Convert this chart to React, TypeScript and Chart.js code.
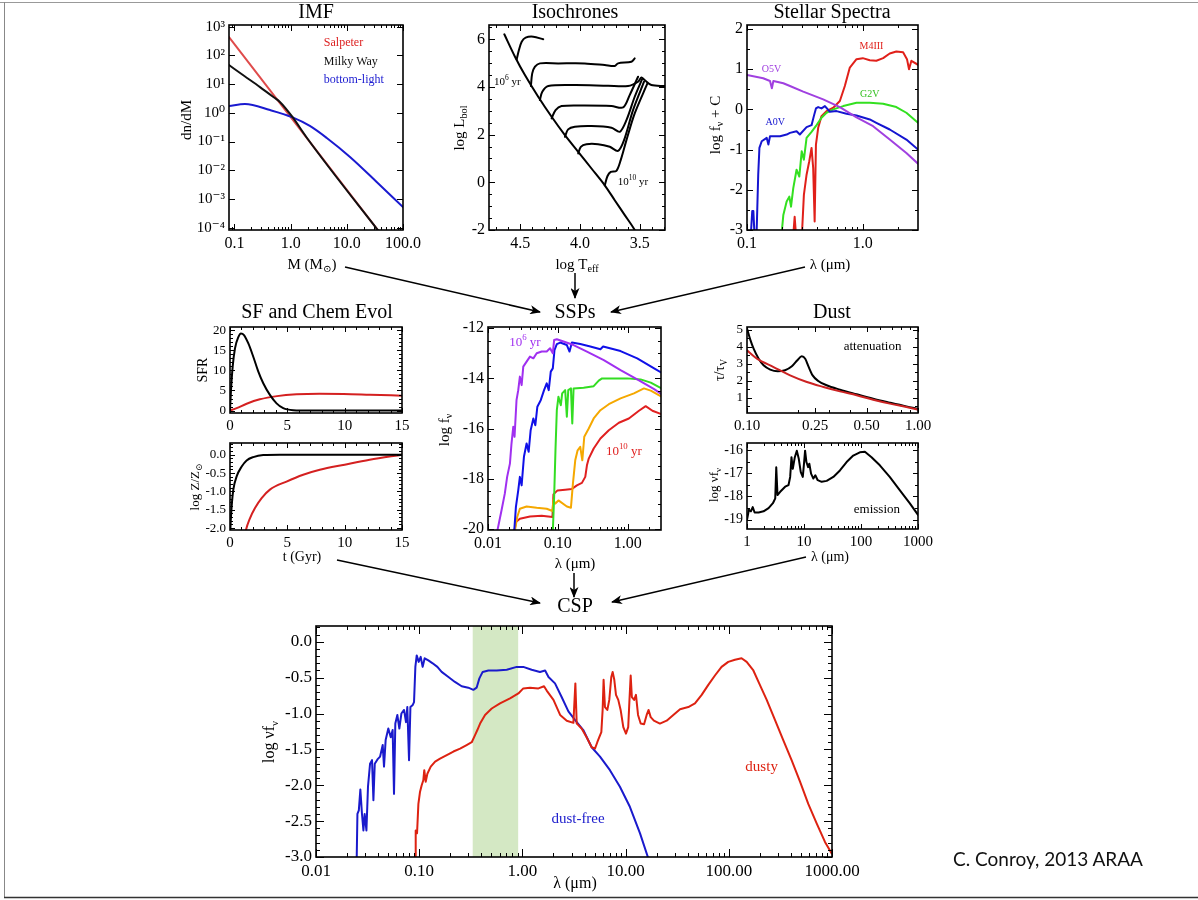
import React, { useEffect, useRef } from "react";
import { Chart, registerables } from "chart.js";
Chart.register(...registerables);

const SERIF = '"Liberation Serif","DejaVu Serif","Times New Roman",serif';
const ML = 80, MT = 32, MR = 34, MB = 48;
const PI2 = -Math.PI / 2;

// ---------------- IMF ----------------
const imfMassTicks = [0.1, 1, 10, 100];
const imfMassLabels = ["0.1", "1.0", "10.0", "100.0"];
const imfDnTicks = [1e-4, 1e-3, 1e-2, 1e-1, 1, 10, 100, 1000];
const imfDnLabels = ["10⁻⁴", "10⁻³", "10⁻²", "10⁻¹", "10⁰", "10¹", "10²", "10³"];
const imfSalpeter = [[0.08, 437], [50, 3.5e-5]];
const imfMilkyWay = [[0.08, 46], [0.15, 19.2], [0.285, 7.9], [0.5, 3.5], [0.645, 2.4], [1.06, 0.75], [2, 0.125], [50, 3.5e-5]];
const imfBottomLight = [[0.08, 1.73], [0.154, 2.03], [0.43, 1.25], [1.06, 0.71], [2.2, 0.35], [4.4, 0.133], [11.4, 0.029], [34, 0.0039], [100, 5.2e-4]];

// ---------------- Isochrones ----------------
const isoTeffTicks = [4.5, 4.0, 3.5];
const isoTeffLabels = ["4.5", "4.0", "3.5"];
const isoLumTicks = [-2, 0, 2, 4, 6];
const isoLumLabels = ["-2", "0", "2", "4", "6"];
const isoMainSeq = [[4.632, 6.21], [4.543, 5.27], [4.46, 4.5], [4.349, 3.59], [4.237, 2.75], [4.126, 1.98], [4.015, 1.28], [3.904, 0.58], [3.793, -0.125], [3.71, -0.75], [3.626, -1.375], [3.543, -2.0], [3.515, -2.36]];
const iso1 = [[4.529, 5.157], [4.51, 5.55], [4.487, 5.9], [4.454, 6.07], [4.39, 6.11], [4.307, 6.0]];
const iso2 = [[4.41, 4.04], [4.399, 4.57], [4.376, 4.85], [4.335, 4.99], [4.182, 4.99], [3.96, 4.99], [3.793, 4.92], [3.71, 4.88], [3.682, 4.99], [3.571, 5.06], [3.543, 5.2]];
const iso3 = [[4.335, 3.45], [4.315, 3.8], [4.265, 4.04], [4.043, 4.08], [3.765, 4.05], [3.599, 4.04], [3.515, 4.22], [3.487, 4.4], [3.46, 4.29], [3.404, 4.08], [3.293, 4.04]];
const iso4 = [[4.237, 2.68], [4.204, 3.03], [4.154, 3.2], [3.96, 3.22], [3.737, 3.2], [3.64, 3.14], [3.585, 3.66], [3.515, 4.43]];
const iso5 = [[4.126, 1.91], [4.099, 2.22], [4.043, 2.33], [3.904, 2.36], [3.737, 2.29], [3.668, 2.12], [3.612, 2.61], [3.543, 3.59], [3.482, 4.32]];
const iso6 = [[4.015, 1.21], [3.993, 1.49], [3.946, 1.6], [3.849, 1.6], [3.751, 1.49], [3.682, 1.32], [3.632, 1.77], [3.557, 3.03], [3.465, 4.22]];
const iso7 = [[3.793, -0.125], [3.771, 0.255], [3.743, 0.44], [3.696, 0.48], [3.66, 0.93], [3.612, 1.77], [3.543, 2.89], [3.437, 4.15]];

// ---------------- Stellar spectra ----------------
const specLamTicks = [0.1, 1.0];
const specLamLabels = ["0.1", "1.0"];
const specFluxTicks = [-3, -2, -1, 0, 1, 2];
const specFluxLabels = ["-3", "-2", "-1", "0", "1", "2"];
const specO5V = [[0.1, 0.858], [0.138, 0.775], [0.158, 0.708], [0.164, 0.525], [0.169, 0.708], [0.206, 0.65], [0.235, 0.583], [0.306, 0.442], [0.455, 0.25], [0.634, 0.058], [0.883, -0.2], [1.228, -0.417], [1.71, -0.75], [2.38, -1.083], [3.0, -1.35]];
const specA0V = [[0.108, -3.1], [0.111, -2.53], [0.1135, -2.53], [0.116, -3.1], [0.121, -3.1], [0.125, -1.625], [0.128, -0.958], [0.134, -0.792], [0.148, -0.708], [0.153, -0.875], [0.158, -0.667], [0.193, -0.667], [0.22, -0.625], [0.235, -0.583], [0.268, -0.542], [0.286, -0.625], [0.327, -0.442], [0.361, -0.392], [0.378, -0.167], [0.394, 0.025], [0.412, 0.058], [0.44, 0.025], [0.471, 0.083], [0.52, -0.058], [0.593, -0.042], [0.724, -0.108], [0.883, -0.15], [1.15, -0.25], [1.31, -0.333], [1.71, -0.5], [2.38, -0.75], [3.0, -1.0]];
const specG2V = [[0.199, -3.1], [0.206, -2.625], [0.22, -2.29], [0.232, -2.17], [0.24, -2.42], [0.251, -1.96], [0.268, -1.5], [0.283, -1.67], [0.297, -1.04], [0.31, -1.25], [0.327, -0.708], [0.361, -0.558], [0.399, -0.392], [0.44, -0.208], [0.486, -0.083], [0.556, 0], [0.678, 0.083], [0.883, 0.167], [1.15, 0.167], [1.5, 0.142], [1.95, 0.058], [2.38, -0.083], [3.0, -0.333]];
const specM4III = [[0.251, -3.13], [0.258, -2.67], [0.265, -3.13], [0.298, -3.13], [0.31, -2.125], [0.327, -1.625], [0.345, -1.29], [0.361, -0.958], [0.373, -1.46], [0.384, -2.79], [0.394, -0.875], [0.412, -0.458], [0.44, -0.167], [0.486, -0.042], [0.556, 0.042], [0.634, 0.208], [0.7, 0.583], [0.773, 1.04], [0.883, 1.25], [1.0, 1.275], [1.15, 1.225], [1.31, 1.21], [1.5, 1.275], [1.71, 1.39], [1.95, 1.44], [2.23, 1.42], [2.41, 1.25], [2.51, 1.0], [2.63, 1.21], [3.0, 1.11]];

// ---------------- SF and chemical evolution ----------------
const sfTimeTicks = [0, 5, 10, 15];
const sfTimeLabels = ["0", "5", "10", "15"];
const sfrTicks = [0, 5, 10, 15, 20];
const sfrLabels = ["0", "5", "10", "15", "20"];
const sfrBurst = [[0, 0], [0.087, 5.1], [0.232, 10.9], [0.435, 15.5], [0.725, 18.3], [0.957, 19.2], [1.22, 18.8], [1.6, 16.7], [2.03, 13.4], [2.47, 9.7], [2.9, 6.8], [3.48, 3.9], [4.06, 1.8], [4.64, 0.6], [5.51, 0.1], [7, 0], [15, 0]];
const sfrExtended = [[0, 0], [0.58, 0.6], [1.45, 1.7], [2.6, 2.8], [4.1, 3.6], [5.8, 4.05], [7.8, 4.2], [9.9, 4.15], [12.2, 3.95], [15, 3.7]];
const zTicks = [-2, -1.5, -1, -0.5, 0];
const zLabels = ["-2.0", "-1.5", "-1.0", "-0.5", "0.0"];
const zBurst = [[0.01, -2.3], [0.03, -2.05], [0.145, -1.41], [0.29, -0.95], [0.58, -0.59], [1.02, -0.32], [1.45, -0.155], [2.03, -0.064], [2.9, -0.01], [4.35, 0], [15, 0]];
const zExtended = [[1.3, -2.2], [1.39, -2.05], [1.74, -1.73], [2.18, -1.45], [2.76, -1.18], [3.48, -0.95], [4.93, -0.73], [6.38, -0.545], [7.83, -0.41], [10, -0.27], [12.18, -0.136], [15, 0]];

// ---------------- SSPs ----------------
const sspLamTicks = [0.01, 0.1, 1];
const sspLamLabels = ["0.01", "0.10", "1.00"];
const sspFluxTicks = [-20, -18, -16, -14, -12];
const sspFluxLabels = ["-20", "-18", "-16", "-14", "-12"];
const ssp1e6 = [[0.0135, -20.13], [0.0156, -19.27], [0.0174, -18.6], [0.0188, -17.93], [0.0206, -17.4], [0.0217, -16.6], [0.023, -15.93], [0.024, -16.33], [0.0256, -14.87], [0.0271, -14.47], [0.0286, -13.93], [0.0303, -14.27], [0.032, -13.53], [0.0357, -13.33], [0.0399, -13.13], [0.0446, -13.2], [0.0498, -13.0], [0.0588, -12.93], [0.0693, -12.93], [0.0774, -12.8], [0.0847, -13.0], [0.0885, -12.47], [0.0967, -12.44], [0.1206, -12.53], [0.168, -12.67], [0.261, -12.93], [0.455, -13.27], [0.79, -13.67], [1.37, -14.04], [2.39, -14.43], [3.05, -14.63]];
const ssp1e7 = [[0.0237, -20.13], [0.0251, -19.13], [0.0271, -18.47], [0.0286, -17.93], [0.0303, -18.27], [0.0327, -17.13], [0.0357, -16.6], [0.0382, -16.93], [0.0408, -16.07], [0.0446, -15.6], [0.0476, -15.87], [0.0509, -15.13], [0.0569, -14.87], [0.0635, -14.47], [0.0693, -14.2], [0.0741, -14.47], [0.0792, -13.73], [0.0847, -13.6], [0.0895, -12.87], [0.0967, -12.63], [0.108, -12.57], [0.1346, -12.67], [0.147, -12.93], [0.159, -12.57], [0.2094, -12.63], [0.2917, -12.73], [0.407, -12.84], [0.445, -12.73], [0.79, -12.91], [1.37, -13.2], [2.39, -13.6], [3.05, -13.77]];
const ssp1e8 = [[0.0847, -20.13], [0.0885, -18.73], [0.0925, -16.87], [0.0967, -15.27], [0.102, -14.73], [0.1104, -15.07], [0.1154, -14.6], [0.1274, -14.47], [0.1346, -15.53], [0.141, -14.47], [0.154, -14.4], [0.161, -15.8], [0.168, -14.4], [0.234, -14.37], [0.326, -14.31], [0.385, -14.09], [0.43, -14.0], [0.634, -14.0], [0.987, -14.0], [1.53, -14.04], [2.14, -14.17], [3.05, -14.4]];
const ssp1e9 = [[0.0243, -20.07], [0.0262, -19.53], [0.0286, -19.2], [0.0357, -19.11], [0.0498, -19.16], [0.0693, -19.2], [0.0837, -19.29], [0.0865, -18.84], [0.0914, -19.0], [0.102, -18.87], [0.1346, -19.11], [0.154, -19.16], [0.1644, -18.2], [0.1775, -17.27], [0.192, -16.87], [0.2094, -16.73], [0.224, -17.27], [0.239, -16.33], [0.277, -16.0], [0.326, -15.6], [0.407, -15.27], [0.537, -15.03], [0.79, -14.8], [1.23, -14.6], [1.71, -14.4], [2.14, -14.49], [3.05, -14.73]];
const ssp1e10 = [[0.0237, -20.13], [0.0251, -19.73], [0.0286, -19.6], [0.0399, -19.51], [0.0588, -19.48], [0.0837, -19.53], [0.0865, -18.63], [0.0989, -18.47], [0.1274, -18.44], [0.159, -18.41], [0.1875, -18.27], [0.2213, -18.17], [0.247, -17.93], [0.261, -17.47], [0.277, -17.2], [0.326, -16.8], [0.407, -16.4], [0.537, -16.07], [0.748, -15.77], [1.04, -15.6], [1.45, -15.29], [1.81, -15.11], [2.26, -15.29], [3.05, -15.43]];

// ---------------- Dust ----------------
const attLamTicks = [0.1, 0.25, 0.5, 1.0];
const attLamLabels = ["0.10", "0.25", "0.50", "1.00"];
const attTicks = [1, 2, 3, 4, 5];
const attLabels = ["1", "2", "3", "4", "5"];
const attMW = [[0.1, 5.06], [0.1045, 4.41], [0.1093, 3.88], [0.117, 3.29], [0.125, 2.9], [0.1367, 2.65], [0.151, 2.55], [0.167, 2.61], [0.183, 2.84], [0.197, 3.2], [0.209, 3.43], [0.219, 3.29], [0.2287, 2.84], [0.242, 2.31], [0.261, 1.98], [0.292, 1.73], [0.35, 1.47], [0.4375, 1.2], [0.547, 0.94], [0.684, 0.71], [0.855, 0.49], [1.0, 0.35]];
const attCalzetti = [[0.1, 3.78], [0.1143, 3.29], [0.143, 2.8], [0.1787, 2.31], [0.224, 1.92], [0.28, 1.63], [0.35, 1.37], [0.4375, 1.14], [0.547, 0.88], [0.684, 0.65], [0.855, 0.45], [1.0, 0.29]];
const emLamTicks = [1, 10, 100, 1000];
const emLamLabels = ["1", "10", "100", "1000"];
const emTicks = [-19, -18, -17, -16];
const emLabels = ["-19", "-18", "-17", "-16"];
const dustEmission = [[1, -19.0], [1.08, -18.57], [1.17, -18.64], [1.26, -18.46], [1.36, -18.69], [1.6, -18.69], [1.95, -18.64], [2.39, -18.5], [2.85, -18.29], [3.13, -18.08], [3.26, -16.74], [3.43, -17.94], [3.82, -17.8], [4.67, -17.58], [5.35, -17.51], [5.72, -17.16], [6.03, -16.31], [6.36, -16.81], [6.9, -16.31], [7.48, -16.03], [8.1, -16.38], [8.78, -16.95], [9.52, -17.16], [10.0, -16.59], [10.45, -16.03], [11.03, -16.52], [11.8, -16.74], [12.4, -16.59], [13.3, -17.02], [14.6, -17.23], [15.8, -17.09], [17.4, -17.3], [20.4, -17.37], [25, -17.33], [32.7, -17.16], [42.7, -16.88], [55.9, -16.52], [73.1, -16.24], [95.5, -16.1], [117, -16.08], [153, -16.31], [214, -16.66], [319, -17.16], [478, -17.73], [714, -18.29], [1000, -18.79]];

// ---------------- CSP ----------------
const cspLamTicks = [0.01, 0.1, 1, 10, 100, 1000];
const cspLamLabels = ["0.01", "0.10", "1.00", "10.00", "100.00", "1000.00"];
const cspFluxTicks = [-3, -2.5, -2, -1.5, -1, -0.5, 0];
const cspFluxLabels = ["-3.0", "-2.5", "-2.0", "-1.5", "-1.0", "-0.5", "0.0"];
const cspOpticalBand = [0.33, 0.91];
const cspDustFree = [[0.0248, -3.02], [0.0252, -2.4], [0.026, -2.35], [0.0269, -2.06], [0.0279, -2.4], [0.0288, -2.63], [0.0296, -2.4], [0.0308, -2.63], [0.0319, -2.02], [0.0334, -1.7], [0.0349, -1.65], [0.036, -2.21], [0.0371, -1.7], [0.0394, -1.64], [0.0418, -1.6], [0.0443, -1.44], [0.0456, -1.74], [0.0473, -1.37], [0.0502, -1.21], [0.053, -1.33], [0.0553, -1.23], [0.057, -2.12], [0.0587, -1.14], [0.0614, -1.02], [0.0642, -1.21], [0.0672, -1.0], [0.0713, -0.95], [0.0745, -1.12], [0.0767, -0.91], [0.0797, -1.65], [0.0822, -0.91], [0.0866, -0.88], [0.0891, -0.84], [0.0918, -0.35], [0.0946, -0.19], [0.0989, -0.28], [0.1034, -0.21], [0.108, -0.35], [0.113, -0.23], [0.1227, -0.26], [0.135, -0.3], [0.15, -0.35], [0.165, -0.42], [0.192, -0.49], [0.222, -0.56], [0.258, -0.62], [0.299, -0.64], [0.335, -0.67], [0.36, -0.64], [0.383, -0.51], [0.412, -0.42], [0.468, -0.4], [0.564, -0.4], [0.705, -0.39], [0.881, -0.35], [1.02, -0.35], [1.23, -0.39], [1.48, -0.42], [1.66, -0.4], [1.79, -0.49], [2.07, -0.58], [2.4, -0.77], [2.79, -0.97], [3.23, -1.09], [3.89, -1.23], [4.69, -1.47], [5.65, -1.6], [7.05, -1.79], [8.81, -2.02], [11.0, -2.3], [13.8, -2.67], [16.6, -3.02]];
const cspDusty = [[0.0912, -3.02], [0.0925, -2.63], [0.0953, -2.67], [0.0982, -2.26], [0.1019, -2.09], [0.1057, -2.0], [0.1096, -1.93], [0.112, -1.79], [0.1156, -1.95], [0.12, -1.84], [0.1294, -1.74], [0.1426, -1.67], [0.1592, -1.63], [0.185, -1.58], [0.2145, -1.53], [0.249, -1.49], [0.288, -1.44], [0.323, -1.4], [0.3476, -1.3], [0.366, -1.23], [0.389, -1.14], [0.4346, -1.02], [0.5044, -0.93], [0.607, -0.86], [0.759, -0.79], [0.914, -0.72], [1.02, -0.65], [1.186, -0.64], [1.43, -0.65], [1.62, -0.62], [1.72, -0.68], [2.0, -0.81], [2.32, -1.02], [2.69, -1.1], [3.12, -1.13], [3.26, -0.58], [3.36, -1.14], [3.48, -1.16], [3.75, -1.21], [4.19, -1.33], [4.69, -1.47], [5.05, -1.49], [5.32, -1.4], [5.56, -1.33], [5.82, -1.26], [5.99, -0.95], [6.12, -0.53], [6.31, -0.91], [6.65, -0.95], [6.95, -0.81], [7.27, -0.49], [7.49, -0.42], [7.77, -0.53], [8.07, -0.74], [8.49, -0.81], [8.95, -0.95], [9.5, -1.19], [10.08, -1.28], [10.6, -1.19], [10.9, -0.81], [11.2, -0.47], [11.5, -0.77], [12.1, -0.81], [12.6, -0.74], [13.2, -1.02], [14.0, -1.14], [15.1, -1.15], [16.0, -1.02], [16.7, -0.95], [17.5, -1.05], [18.8, -1.1], [21.5, -1.14], [25.0, -1.1], [29.0, -1.02], [33.7, -0.94], [40.5, -0.91], [47.0, -0.86], [54.6, -0.74], [63.3, -0.6], [73.4, -0.47], [85.1, -0.35], [98.8, -0.28], [114.7, -0.25], [133, -0.23], [149, -0.28], [173, -0.4], [200, -0.6], [233, -0.81], [280, -1.09], [337, -1.37], [406, -1.65], [490, -1.95], [589, -2.26], [710, -2.53], [855, -2.79], [993, -2.95]];

// ---------------- helpers ----------------
function logMinor(lo: number, hi: number) {
  const out: number[] = [];
  for (let e = Math.floor(Math.log10(lo)); e <= Math.ceil(Math.log10(hi)); e++)
    for (let k = 2; k <= 9; k++) {
      const v = k * Math.pow(10, e);
      if (v > lo && v < hi) out.push(v);
    }
  return out;
}
function linMinor(lo: number, hi: number, step: number) {
  const out: number[] = [];
  for (let v = Math.ceil(lo / step) * step; v <= hi + 1e-9; v += step) out.push(+v.toFixed(6));
  return out;
}

type Seg = [string, string];
function drawRich(ctx: CanvasRenderingContext2D, segs: Seg[], x: number, y: number, size: number, color: string, align = "center", rot = 0) {
  ctx.save();
  ctx.translate(x, y);
  if (rot) ctx.rotate(rot);
  ctx.fillStyle = color;
  ctx.textBaseline = "middle";
  ctx.textAlign = "left";
  const parts = segs.map(([t, m]) => {
    const s = m ? size * 0.68 : size;
    ctx.font = `${s}px ${SERIF}`;
    return { t, m, s, w: ctx.measureText(t).width };
  });
  const total = parts.reduce((a, p) => a + p.w, 0);
  let cx = align === "center" ? -total / 2 : align === "right" ? -total : 0;
  for (const p of parts) {
    ctx.font = `${p.s}px ${SERIF}`;
    const dy = p.m === "sup" ? -size * 0.36 : p.m === "sub" ? size * 0.3 : 0;
    ctx.fillText(p.t, cx, dy);
    cx += p.w;
  }
  ctx.restore();
}

const T = (s: string): Seg[] => [[s, ""]];

// ---------------- panel configs ----------------
const PANELS: any[] = [
  {
    frame: { l: 229, t: 25, r: 403, b: 230 },
    tick: [6, 3],
    x: { type: "logarithmic", min: 0.08, max: 100, major: imfMassTicks, labels: imfMassLabels, minor: logMinor(0.08, 100), font: 16, show: true },
    y: { type: "logarithmic", min: 8.3e-5, max: 1150, major: imfDnTicks, labels: imfDnLabels, minor: [], font: 15, show: true },
    series: [
      { data: imfMilkyWay, color: "#111", mode: "mono" },
      { data: imfBottomLight, color: "#1a1ad0", mode: "mono" },
      { data: imfSalpeter, color: "rgba(215,30,30,0.8)", mode: "none" },
    ],
    notes: [
      { x: 3.9, y: 270, segs: T("Salpeter"), color: "#d22", size: 12, align: "left" },
      { x: 3.9, y: 59, segs: T("Milky Way"), color: "#111", size: 12, align: "left" },
      { x: 3.9, y: 13.8, segs: T("bottom-light"), color: "#1a1ad0", size: 12, align: "left" },
    ],
    texts: [
      { px: 316, py: 13, segs: T("IMF"), size: 20 },
      { px: 187, py: 120, segs: T("dn/dM"), size: 15, rot: PI2 },
      { px: 312, py: 265, segs: [["M (M", ""], ["⊙", "sub"], [")", ""]], size: 15 },
    ],
  },
  {
    frame: { l: 489, t: 25, r: 665, b: 230 },
    tick: [6, 3],
    x: { type: "linear", min: 3.29, max: 4.76, reverse: true, major: isoTeffTicks, labels: isoTeffLabels, minor: linMinor(3.3, 4.7, 0.1), font: 16, show: true },
    y: { type: "linear", min: -2, max: 6.6, major: isoLumTicks, labels: isoLumLabels, minor: linMinor(-2, 6.5, 0.5), font: 16, show: true },
    series: [isoMainSeq, iso1, iso2, iso3, iso4, iso5, iso6, iso7].map((d) => ({ data: d, color: "#000", mode: "bez", width: 2 })),
    notes: [
      { x: 4.607, y: 4.22, segs: [["10", ""], ["6", "sup"], [" yr", ""]], color: "#000", size: 11 },
      { x: 3.557, y: 0.0, segs: [["10", ""], ["10", "sup"], [" yr", ""]], color: "#000", size: 11 },
    ],
    texts: [
      { px: 575, py: 13, segs: T("Isochrones"), size: 20 },
      { px: 460, py: 128, segs: [["log L", ""], ["bol", "sub"]], size: 15, rot: PI2 },
      { px: 577, py: 265, segs: [["log T", ""], ["eff", "sub"]], size: 15 },
    ],
  },
  {
    frame: { l: 747, t: 25, r: 918, b: 230 },
    tick: [6, 3],
    x: { type: "logarithmic", min: 0.1, max: 3.0, major: specLamTicks, labels: specLamLabels, minor: logMinor(0.1, 3.0), font: 16, show: true },
    y: { type: "linear", min: -3, max: 2.1, major: specFluxTicks, labels: specFluxLabels, minor: linMinor(-3, 2, 0.5), font: 16, show: true },
    series: [
      { data: specO5V, color: "#a040e0", mode: "none" },
      { data: specA0V, color: "#1515d0", mode: "none" },
      { data: specG2V, color: "#33e020", mode: "none" },
      { data: specM4III, color: "#e0201a", mode: "none" },
    ],
    notes: [
      { x: 0.163, y: 1.0, segs: T("O5V"), color: "#a040e0", size: 10 },
      { x: 0.175, y: -0.333, segs: T("A0V"), color: "#1515d0", size: 10 },
      { x: 1.15, y: 0.375, segs: T("G2V"), color: "#33c020", size: 10 },
      { x: 1.19, y: 1.58, segs: T("M4III"), color: "#e0201a", size: 10 },
    ],
    texts: [
      { px: 832, py: 13, segs: T("Stellar Spectra"), size: 20 },
      { px: 716, py: 125, segs: [["log f", ""], ["ν", "sub"], [" + C", ""]], size: 15, rot: PI2 },
      { px: 830, py: 265, segs: T("λ (μm)"), size: 15 },
    ],
  },
  {
    frame: { l: 230, t: 327, r: 402, b: 413 },
    tick: [5, 3],
    x: { type: "linear", min: 0, max: 15, major: sfTimeTicks, labels: sfTimeLabels, minor: linMinor(0, 15, 1), font: 15, show: true },
    y: { type: "linear", min: -0.6, max: 20.8, major: sfrTicks, labels: sfrLabels, minor: linMinor(0, 20, 1), font: 13, show: true },
    series: [
      { data: sfrBurst, color: "#000", mode: "mono" },
      { data: sfrExtended, color: "#d42020", mode: "mono" },
    ],
    notes: [],
    texts: [
      { px: 317, py: 313, segs: T("SF and Chem Evol"), size: 20 },
      { px: 203, py: 370, segs: T("SFR"), size: 14, rot: PI2 },
    ],
  },
  {
    frame: { l: 230, t: 443, r: 402, b: 530 },
    tick: [5, 3],
    x: { type: "linear", min: 0, max: 15, major: sfTimeTicks, labels: sfTimeLabels, minor: linMinor(0, 15, 1), font: 15, show: true },
    y: { type: "linear", min: -2.05, max: 0.32, major: zTicks, labels: zLabels, minor: linMinor(-2, 0.3, 0.1), font: 13, show: true },
    series: [
      { data: zBurst, color: "#000", mode: "mono" },
      { data: zExtended, color: "#d42020", mode: "mono" },
    ],
    notes: [],
    texts: [
      { px: 196, py: 487, segs: [["log Z/Z", ""], ["⊙", "sub"]], size: 13, rot: PI2 },
      { px: 302, py: 557, segs: T("t (Gyr)"), size: 14 },
    ],
  },
  {
    frame: { l: 488, t: 327, r: 661, b: 530 },
    tick: [6, 3],
    x: { type: "logarithmic", min: 0.01, max: 3.0, major: sspLamTicks, labels: sspLamLabels, minor: logMinor(0.01, 3.0), font: 16, show: true },
    y: { type: "linear", min: -20.05, max: -11.95, major: sspFluxTicks, labels: sspFluxLabels, minor: linMinor(-20, -12, 0.5), font: 16, show: true },
    series: [
      { data: ssp1e6, color: "#a030f0", mode: "none" },
      { data: ssp1e7, color: "#1010e8", mode: "none" },
      { data: ssp1e8, color: "#33dd22", mode: "none" },
      { data: ssp1e9, color: "#f5a800", mode: "none" },
      { data: ssp1e10, color: "#e02020", mode: "none" },
    ],
    notes: [
      { x: 0.0338, y: -12.57, segs: [["10", ""], ["6", "sup"], [" yr", ""]], color: "#a030f0", size: 13 },
      { x: 0.883, y: -16.93, segs: [["10", ""], ["10", "sup"], [" yr", ""]], color: "#e02020", size: 13 },
    ],
    texts: [
      { px: 575, py: 313, segs: T("SSPs"), size: 20 },
      { px: 445, py: 430, segs: [["log f", ""], ["ν", "sub"]], size: 15, rot: PI2 },
      { px: 575, py: 564, segs: T("λ (μm)"), size: 15 },
    ],
  },
  {
    frame: { l: 747, t: 327, r: 918, b: 413 },
    tick: [5, 3],
    x: { type: "logarithmic", min: 0.1, max: 1.0, major: attLamTicks, labels: attLamLabels, minor: [0.2, 0.3, 0.4, 0.6, 0.7, 0.8, 0.9], font: 15, show: true },
    y: { type: "linear", min: 0.1, max: 5.15, major: attTicks, labels: attLabels, minor: linMinor(0.5, 5, 0.5), font: 13, show: true },
    series: [
      { data: attCalzetti, color: "#cc2222", mode: "mono" },
      { data: attMW, color: "#000", mode: "mono" },
    ],
    notes: [{ x: 0.542, y: 4.02, segs: T("attenuation"), color: "#000", size: 13 }],
    texts: [
      { px: 832, py: 313, segs: T("Dust"), size: 20 },
      { px: 720, py: 370, segs: [["τ/τ", ""], ["V", "sub"]], size: 14, rot: PI2 },
    ],
  },
  {
    frame: { l: 747, t: 443, r: 918, b: 529 },
    tick: [5, 3],
    x: { type: "logarithmic", min: 1, max: 1000, major: emLamTicks, labels: emLamLabels, minor: logMinor(1, 1000), font: 15, show: true },
    y: { type: "linear", min: -19.4, max: -15.7, major: emTicks, labels: emLabels, minor: linMinor(-19, -16, 0.5), font: 14, show: true },
    series: [{ data: dustEmission, color: "#000", mode: "none" }],
    notes: [{ x: 190, y: -18.57, segs: T("emission"), color: "#000", size: 13 }],
    texts: [
      { px: 715, py: 485, segs: [["log νf", ""], ["ν", "sub"]], size: 13, rot: PI2 },
      { px: 830, py: 557, segs: T("λ (μm)"), size: 14 },
    ],
  },
  {
    frame: { l: 316, t: 626, r: 832, b: 857 },
    tick: [8, 4],
    x: { type: "logarithmic", min: 0.01, max: 1000, major: cspLamTicks, labels: cspLamLabels, minor: logMinor(0.01, 1000), font: 17, show: true },
    y: { type: "linear", min: -3.0, max: 0.22, major: cspFluxTicks, labels: cspFluxLabels, minor: linMinor(-3, 0.2, 0.1), font: 17, show: true },
    band: { from: cspOpticalBand[0], to: cspOpticalBand[1], color: "rgb(212,232,196)" },
    series: [
      { data: cspDusty, color: "#dd2211", mode: "none" },
      { data: cspDustFree, color: "#1a1acc", mode: "none" },
    ],
    notes: [
      { x: 3.46, y: -2.47, segs: T("dust-free"), color: "#1a1acc", size: 15 },
      { x: 208, y: -1.74, segs: T("dusty"), color: "#dd2211", size: 15 },
    ],
    texts: [
      { px: 575, py: 607, segs: T("CSP"), size: 20 },
      { px: 270, py: 742, segs: [["log νf", ""], ["ν", "sub"]], size: 16, rot: PI2 },
      { px: 575, py: 884, segs: T("λ (μm)"), size: 16 },
    ],
  },
];

function axisOpts(a: any, dir: "x" | "y") {
  return {
    type: a.type,
    min: a.min,
    max: a.max,
    reverse: !!a.reverse,
    position: dir === "x" ? "bottom" : "left",
    grid: { display: false, drawTicks: false },
    border: { display: false },
    title: { display: false },
    ticks: {
      display: a.show,
      autoSkip: false,
      maxRotation: 0,
      minRotation: 0,
      padding: dir === "x" ? 4 : 4,
      color: "#000",
      font: { family: SERIF, size: a.font },
      callback: (_v: any, i: number) => a.labels[i] ?? "",
    },
    afterBuildTicks: (s: any) => {
      s.ticks = a.major.map((v: number) => ({ value: v }));
    },
    afterFit: (s: any) => {
      if (dir === "x") s.height = MB;
      else s.width = ML;
    },
  };
}

function Panel({ cfg }: { cfg: any }) {
  const ref = useRef<HTMLCanvasElement | null>(null);
  const { l, t, r, b } = cfg.frame;
  const W = r - l + ML + MR;
  const H = b - t + MT + MB;
  const ox = l - ML;
  const oy = t - MT;
  useEffect(() => {
    const canvas = ref.current;
    if (!canvas) return;
    const deco = {
      id: "deco",
      beforeDatasetsDraw(chart: any) {
        if (!cfg.band) return;
        const { ctx, chartArea: a, scales } = chart;
        const x1 = scales.x.getPixelForValue(cfg.band.from);
        const x2 = scales.x.getPixelForValue(cfg.band.to);
        ctx.save();
        ctx.fillStyle = cfg.band.color;
        ctx.fillRect(x1, a.top, x2 - x1, a.bottom - a.top);
        ctx.restore();
      },
      afterDatasetsDraw(chart: any) {
        const { ctx, chartArea: a, scales } = chart;
        const xs = scales.x;
        const ys = scales.y;
        ctx.save();
        ctx.strokeStyle = "#000";
        ctx.lineWidth = 1;
        ctx.beginPath();
        const xt = (vals: number[], len: number) =>
          vals.forEach((v) => {
            const p = Math.round(xs.getPixelForValue(v)) + 0.5;
            if (p < a.left - 1 || p > a.right + 1) return;
            ctx.moveTo(p, a.bottom);
            ctx.lineTo(p, a.bottom - len);
            ctx.moveTo(p, a.top);
            ctx.lineTo(p, a.top + len);
          });
        const yt = (vals: number[], len: number) =>
          vals.forEach((v) => {
            const p = Math.round(ys.getPixelForValue(v)) + 0.5;
            if (p < a.top - 1 || p > a.bottom + 1) return;
            ctx.moveTo(a.left, p);
            ctx.lineTo(a.left + len, p);
            ctx.moveTo(a.right, p);
            ctx.lineTo(a.right - len, p);
          });
        xt(cfg.x.major, cfg.tick[0]);
        xt(cfg.x.minor, cfg.tick[1]);
        yt(cfg.y.major, cfg.tick[0]);
        yt(cfg.y.minor, cfg.tick[1]);
        ctx.stroke();
        ctx.lineWidth = 1.6;
        ctx.strokeRect(a.left, a.top, a.right - a.left, a.bottom - a.top);
        for (const n of cfg.notes) {
          drawRich(ctx, n.segs, xs.getPixelForValue(n.x), ys.getPixelForValue(n.y), n.size, n.color, n.align || "center");
        }
        for (const tx of cfg.texts) {
          drawRich(ctx, tx.segs, tx.px - ox, tx.py - oy, tx.size, "#000", "center", tx.rot || 0);
        }
        ctx.restore();
      },
    };
    const chart = new Chart(canvas, {
      type: "scatter",
      data: {
        datasets: cfg.series.map((s: any) => ({
          data: s.data.map(([x, y]: number[]) => ({ x, y })),
          showLine: true,
          pointRadius: 0,
          pointHoverRadius: 0,
          borderColor: s.color,
          backgroundColor: s.color,
          borderWidth: s.width ?? 2,
          fill: false,
          tension: s.mode === "bez" ? 0.3 : s.mode === "mono" ? 0.4 : 0,
          cubicInterpolationMode: s.mode === "mono" ? "monotone" : "default",
          borderJoinStyle: "round",
          borderCapStyle: "round",
        })),
      },
      options: {
        animation: false,
        responsive: false,
        devicePixelRatio: 1,
        events: [],
        layout: { padding: { left: 0, top: MT, right: MR, bottom: 0 } },
        plugins: { legend: { display: false }, tooltip: { enabled: false }, title: { display: false } },
        scales: { x: axisOpts(cfg.x, "x"), y: axisOpts(cfg.y, "y") },
      } as any,
      plugins: [deco],
    });
    return () => chart.destroy();
  }, []);
  return <canvas ref={ref} width={W} height={H} style={{ position: "absolute", left: ox, top: oy, width: W, height: H }} />;
}

const ARROWS = [
  [345, 267, 540, 312],
  [805, 267, 611, 312],
  [575, 273, 575, 298],
  [337, 560, 540, 603],
  [806, 557, 612, 602],
  [574, 573, 574, 597],
];

export default function App() {
  return (
    <div style={{ position: "absolute", left: 0, top: 0, width: 1198, height: 900, overflow: "hidden", background: "#fff" }}>
      {PANELS.map((p, i) => (
        <Panel key={i} cfg={p} />
      ))}
      <svg width={1198} height={900} style={{ position: "absolute", left: 0, top: 0, pointerEvents: "none" }}>
        <defs>
          <marker id="ah" markerWidth="11" markerHeight="9" refX="10" refY="4.5" orient="auto" markerUnits="userSpaceOnUse">
            <path d="M0,0 L11,4.5 L0,9 L3,4.5 z" fill="#000" />
          </marker>
        </defs>
        <line x1={0} y1={2.5} x2={1198} y2={2.5} stroke="#999" strokeWidth={1} />
        <line x1={4.5} y1={2} x2={4.5} y2={898} stroke="#888" strokeWidth={1} />
        <line x1={4} y1={897.5} x2={1198} y2={897.5} stroke="#333" strokeWidth={1.6} />
        {ARROWS.map((a, i) => (
          <line key={i} x1={a[0]} y1={a[1]} x2={a[2]} y2={a[3]} stroke="#000" strokeWidth={1.5} markerEnd="url(#ah)" />
        ))}
      </svg>
      <div style={{ position: "absolute", left: 953, top: 847, fontFamily: "Lato, 'Open Sans', sans-serif", fontSize: 19, lineHeight: "24px", color: "#111", whiteSpace: "nowrap" }}>
        C. Conroy, 2013 ARAA
      </div>
    </div>
  );
}
